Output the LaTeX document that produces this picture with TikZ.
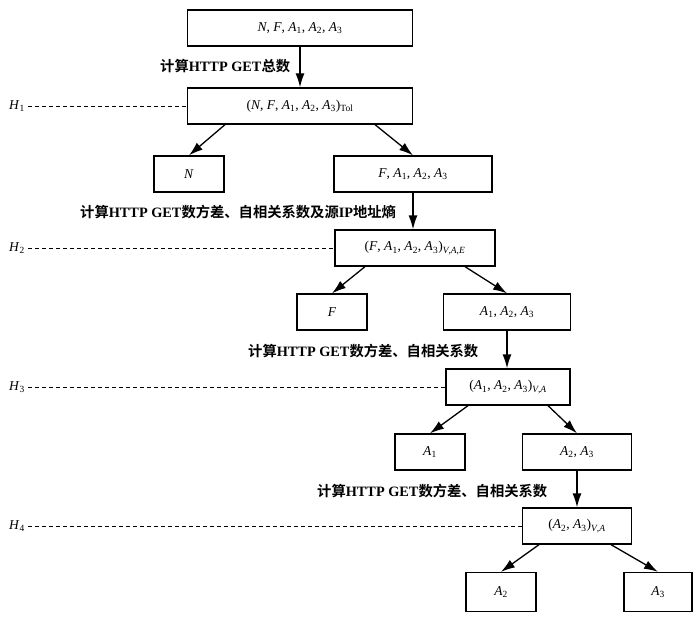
\documentclass[tikz,border=0pt]{standalone}
\usepackage{fontspec}
\setmainfont{Liberation Serif}
\newfontfamily\cjk{Noto Sans CJK SC}[BoldFont={* Bold}]
\usetikzlibrary{arrows.meta}
\newcommand{\vA}[1]{\textit{A}\textsubscript{#1}}
\newcommand{\vi}[1]{\textit{#1}}
\begin{document}
\begin{tikzpicture}[x=1pt,y=-1pt,
  box/.style={draw,line width=1.3pt,rectangle,inner sep=0pt,minimum height=36pt,font=\fontsize{13.5}{15}\selectfont},
  arr/.style={line width=1.3pt,-{Latex[length=14pt,width=9pt]}},
  hline/.style={line width=0.9pt,dash pattern=on 4pt off 3pt},
  lbl/.style={font=\fontsize{14.3}{16}\selectfont\bfseries,inner sep=0pt},
  hl/.style={font=\fontsize{13.5}{15}\selectfont,inner sep=0pt}]
\useasboundingbox (0,0) rectangle (700,623);
% nodes
\node[box,minimum width=225pt] (b1) at (300,28) {\vi{N}, \vi{F}, \vA{1}, \vA{2}, \vA{3}};
\node[box,minimum width=225pt] (b2) at (300,106) {(\vi{N}, \vi{F}, \vA{1}, \vA{2}, \vA{3})\textsubscript{Tol}};
\node[box,minimum width=70pt] (n) at (189,174) {\vi{N}};
\node[box,minimum width=158pt] (f) at (413,174) {\vi{F}, \vA{1}, \vA{2}, \vA{3}};
\node[box,minimum width=160pt] (b4) at (415,248) {(\vi{F}, \vA{1}, \vA{2}, \vA{3})\textsubscript{\textit{V},\textit{A},\textit{E}}};
\node[box,minimum width=70pt] (fl) at (332,312) {\vi{F}};
\node[box,minimum width=127pt] (a123) at (507,312) {\vA{1}, \vA{2}, \vA{3}};
\node[box,minimum width=124pt] (b6) at (508,387) {(\vA{1}, \vA{2}, \vA{3})\textsubscript{\textit{V},\textit{A}}};
\node[box,minimum width=70pt] (a1) at (430,452) {\vA{1}};
\node[box,minimum width=109pt] (a23) at (577,452) {\vA{2}, \vA{3}};
\node[box,minimum width=109pt] (b9) at (577,526) {(\vA{2}, \vA{3})\textsubscript{\textit{V},\textit{A}}};
\node[box,minimum width=70pt,minimum height=39pt] (a2) at (501,592) {\vA{2}};
\node[box,minimum width=68pt,minimum height=39pt] (a3) at (658,592) {\vA{3}};
% labels
\node[lbl,anchor=west] (l1) at (160,66) {{\cjk 计算}HTTP GET{\cjk 总数}};
\node[lbl,anchor=west] (l2) at (80,212) {{\cjk 计算}HTTP GET{\cjk 数方差、自相关系数及源}IP{\cjk 地址熵}};
\node[lbl,anchor=west] (l3) at (248,351) {{\cjk 计算}HTTP GET{\cjk 数方差、自相关系数}};
\node[lbl,anchor=west] (l4) at (317,491) {{\cjk 计算}HTTP GET{\cjk 数方差、自相关系数}};
% H labels and dashed lines
\node[hl] (h1) at (17,106) {\vi{H}\textsubscript{1}};
\node[hl] (h2) at (17,248) {\vi{H}\textsubscript{2}};
\node[hl] (h3) at (17,387) {\vi{H}\textsubscript{3}};
\node[hl] (h4) at (17,526) {\vi{H}\textsubscript{4}};
\draw[hline] ([xshift=3pt]h1.east) -- (b2.west);
\draw[hline] ([xshift=3pt]h2.east) -- (b4.west);
\draw[hline] ([xshift=3pt]h3.east) -- (b6.west);
\draw[hline] ([xshift=3pt]h4.east) -- (b9.west);
% arrows
\draw[arr] (b1.south) -- (b2.north);
\draw[arr] ([xshift=-75pt]b2.south) -- (n.north);
\draw[arr] ([xshift=75pt]b2.south) -- (f.north);
\draw[arr] (f.south) -- (f.south |- b4.north);
\draw[arr] ([xshift=-50pt]b4.south) -- (fl.north);
\draw[arr] ([xshift=50pt]b4.south) -- (a123.north);
\draw[arr] (a123.south) -- (a123.south |- b6.north);
\draw[arr] ([xshift=-40pt]b6.south) -- (a1.north);
\draw[arr] ([xshift=40pt]b6.south) -- (a23.north);
\draw[arr] (a23.south) -- (b9.north);
\draw[arr] ([xshift=-38pt]b9.south) -- (a2.north);
\draw[arr] ([xshift=34pt]b9.south) -- (a3.north);
\end{tikzpicture}
\end{document}
